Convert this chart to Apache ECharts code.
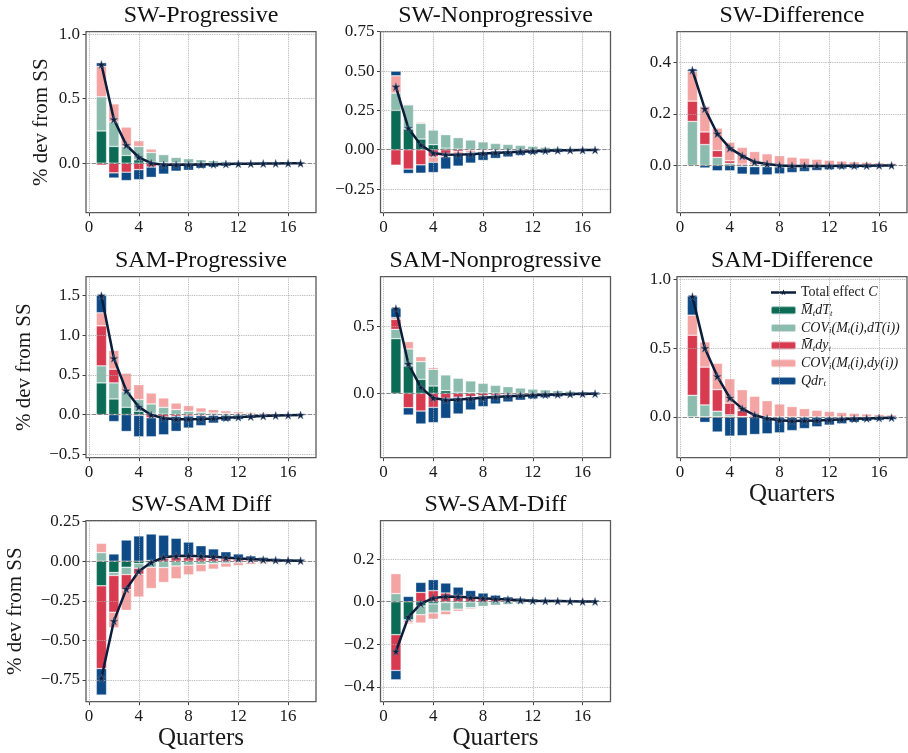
<!DOCTYPE html>
<html>
<head>
<meta charset="utf-8">
<script src="https://cdn.jsdelivr.net/npm/echarts@6/dist/echarts.min.js"></script>
<style>
  html, body { margin: 0; padding: 0; background: #fff; }
  #chart { width: 908px; height: 753px; }
</style>
</head>
<body>
<div id="chart"></div>
<script>
// quarters after the shock
const quarters = [1, 2, 3, 4, 5, 6, 7, 8, 9, 10, 11, 12, 13, 14, 15, 16, 17]
const xTicks = [0, 4, 8, 12, 16]

// SW-Progressive
const swProgMdT = [0.25, 0.13, 0.06, 0.026, 0.008, 0.003, 0.002, 0.001, 0.001, 0, 0, 0, 0, 0, 0, 0, 0]
const swProgCovdT = [0.265, 0.19, 0.07, 0.104, 0.075, 0.063, 0.043, 0.034, 0.026, 0.02, 0.015, 0.011, 0.008, 0.006, 0.004, 0.003, 0.002]
const swProgMdy = [-0.015, -0.075, -0.07, -0.05, -0.03, -0.015, -0.01, -0.008, -0.005, -0.004, -0.003, -0.002, -0.002, -0.001, -0.001, -0.001, 0]
const swProgCovdy = [0.235, 0.14, 0.15, 0.044, 0.027, 0.006, 0.005, 0.005, 0.003, 0.002, 0.001, 0.002, 0.001, 0.001, 0.001, 0, 0]
const swProgQdr = [0.03, -0.04, -0.065, -0.078, -0.08, -0.07, -0.052, -0.047, -0.035, -0.027, -0.02, -0.014, -0.01, -0.008, -0.005, -0.003, -0.002]
const swProgTotal = [0.765, 0.34, 0.14, 0.046, 0.0, -0.012, -0.013, -0.013, -0.011, -0.009, -0.007, -0.005, -0.004, -0.003, -0.002, -0.001, -0.001]
const swProgTicks = [0, 0.5, 1.0]

// SW-Nonprogressive
const swNonMdT = [0.25, 0.132, 0.068, 0.032, 0.01, 0.004, 0.002, 0.001, 0, 0, 0, 0, 0, 0, 0, 0, 0]
const swNonCovdT = [0.11, 0.153, 0.1, 0.093, 0.086, 0.073, 0.06, 0.049, 0.04, 0.034, 0.028, 0.022, 0.017, 0.013, 0.01, 0.008, 0.006]
const swNonMdy = [-0.098, -0.123, -0.096, -0.045, -0.023, -0.012, -0.006, -0.004, -0.002, -0.002, -0.001, -0.001, 0, 0, 0, 0, 0]
const swNonCovdy = [0.11, 0.005, 0.007, -0.035, -0.022, -0.018, -0.012, -0.008, -0.006, -0.004, -0.003, -0.002, -0.002, -0.001, -0.001, 0, 0]
const swNonQdr = [0.03, -0.028, -0.053, -0.065, -0.078, -0.074, -0.067, -0.056, -0.047, -0.04, -0.032, -0.025, -0.02, -0.016, -0.012, -0.01, -0.008]
const swNonTotal = [0.4, 0.137, 0.03, -0.021, -0.032, -0.031, -0.028, -0.024, -0.02, -0.016, -0.012, -0.009, -0.006, -0.004, -0.003, -0.002, -0.001]
const swNonTicks = [-0.25, 0, 0.25, 0.5, 0.75]

// SW-Difference
const swDiffMdT = [0, 0, 0, 0, 0, 0, 0, 0, 0, 0, 0, 0, 0, 0, 0, 0, 0]
const swDiffCovdT = [0.171, 0.081, 0.031, 0.008, -0.004, -0.005, -0.005, -0.006, -0.006, -0.006, -0.006, -0.005, -0.005, -0.004, -0.004, -0.003, -0.003]
const swDiffMdy = [0.079, 0.049, 0.027, 0.01, 0.005, 0.002, 0.001, 0, 0, 0, 0, 0, 0, 0, 0, 0, 0]
const swDiffCovdy = [0.115, 0.1, 0.087, 0.072, 0.065, 0.052, 0.044, 0.038, 0.032, 0.028, 0.024, 0.02, 0.017, 0.014, 0.012, 0.01, 0.008]
const swDiffQdr = [0.008, -0.01, -0.021, -0.021, -0.03, -0.032, -0.032, -0.027, -0.022, -0.018, -0.014, -0.012, -0.009, -0.008, -0.006, -0.005, -0.003]
const swDiffTotal = [0.37, 0.22, 0.123, 0.067, 0.037, 0.013, 0.005, 0.0, -0.002, -0.002, -0.002, -0.002, -0.001, -0.001, -0.001, 0, 0]
const swDiffTicks = [0, 0.2, 0.4]

// SAM-Progressive
const samProgMdT = [0.4, 0.197, 0.092, 0.042, 0.015, 0.005, 0.002, 0.001, 0, 0, 0, 0, 0, 0, 0, 0, 0]
const samProgCovdT = [0.215, 0.203, 0.198, 0.148, 0.119, 0.087, 0.061, 0.041, 0.03, 0.02, 0.015, 0.01, 0.007, 0.005, 0.003, 0.002, 0.001]
const samProgMdy = [0.505, 0.173, 0.012, -0.01, -0.04, -0.03, -0.022, -0.018, -0.014, -0.01, -0.008, -0.006, -0.004, -0.003, -0.002, -0.001, -0.001]
const samProgCovdy = [0.165, 0.237, 0.221, 0.187, 0.138, 0.118, 0.083, 0.071, 0.055, 0.043, 0.033, 0.025, 0.019, 0.014, 0.011, 0.008, 0.006]
const samProgQdr = [0.22, -0.088, -0.213, -0.27, -0.24, -0.225, -0.19, -0.152, -0.126, -0.098, -0.075, -0.056, -0.042, -0.031, -0.022, -0.016, -0.011]
const samProgTotal = [1.5, 0.71, 0.3, 0.097, -0.005, -0.045, -0.058, -0.058, -0.055, -0.048, -0.04, -0.032, -0.025, -0.018, -0.012, -0.008, -0.005]
const samProgTicks = [-0.5, 0, 0.5, 1.0, 1.5]

// SAM-Nonprogressive
const samNonMdT = [0.41, 0.205, 0.105, 0.055, 0.02, 0.008, 0.004, 0.002, 0.001, 0, 0, 0, 0, 0, 0, 0, 0]
const samNonCovdT = [0.07, 0.128, 0.133, 0.125, 0.118, 0.105, 0.089, 0.073, 0.059, 0.05, 0.04, 0.032, 0.026, 0.02, 0.016, 0.013, 0.01]
const samNonMdy = [0.075, -0.108, -0.133, -0.105, -0.038, -0.03, -0.025, -0.02, -0.015, -0.012, -0.01, -0.008, -0.006, -0.005, -0.004, -0.003, -0.002]
const samNonCovdy = [0.013, 0.055, 0.037, 0.013, 0, 0, 0, 0, 0, 0, 0, 0, 0, 0, 0, 0, 0]
const samNonQdr = [0.072, -0.055, -0.097, -0.115, -0.15, -0.125, -0.1, -0.08, -0.065, -0.053, -0.042, -0.034, -0.028, -0.022, -0.017, -0.014, -0.011]
const samNonTotal = [0.635, 0.22, 0.045, -0.035, -0.05, -0.046, -0.04, -0.034, -0.028, -0.022, -0.018, -0.014, -0.01, -0.008, -0.006, -0.004, -0.003]
const samNonTicks = [0, 0.5]

// SAM-Difference
const samDiffMdT = [0, 0, 0, 0, 0, 0, 0, 0, 0, 0, 0, 0, 0, 0, 0, 0, 0]
const samDiffCovdT = [0.157, 0.087, 0.041, 0.015, 0.003, -0.003, -0.004, -0.004, -0.004, -0.004, -0.003, -0.003, -0.003, -0.002, -0.002, -0.002, -0.001]
const samDiffMdy = [0.437, 0.275, 0.157, 0.085, 0.043, 0.01, 0.003, 0, 0, 0, 0, 0, 0, 0, 0, 0, 0]
const samDiffCovdy = [0.146, 0.184, 0.192, 0.178, 0.152, 0.14, 0.115, 0.094, 0.075, 0.06, 0.048, 0.04, 0.032, 0.026, 0.021, 0.017, 0.014]
const samDiffQdr = [0.14, -0.04, -0.11, -0.14, -0.137, -0.125, -0.119, -0.112, -0.096, -0.081, -0.069, -0.057, -0.047, -0.038, -0.03, -0.024, -0.019]
const samDiffTotal = [0.875, 0.5, 0.295, 0.138, 0.06, 0.012, -0.012, -0.025, -0.03, -0.028, -0.026, -0.022, -0.018, -0.014, -0.011, -0.008, -0.006]
const samDiffTicks = [0, 0.5, 1.0]

// SW-SAM Diff
const swsamMdT = [-0.155, -0.071, -0.038, -0.015, -0.005, -0.002, -0.001, 0, 0, 0, 0, 0, 0, 0, 0, 0, 0]
const swsamCovdT = [0.054, -0.019, -0.046, -0.029, -0.033, -0.038, -0.029, -0.025, -0.02, -0.016, -0.012, -0.009, -0.007, -0.005, -0.004, -0.003, -0.002]
const swsamMdy = [-0.523, -0.232, -0.096, -0.038, 0.005, 0.017, 0.025, 0.025, 0.022, 0.018, 0.015, 0.012, 0.009, 0.007, 0.005, 0.004, 0.003]
const swsamCovdy = [0.059, -0.098, -0.13, -0.144, -0.134, -0.094, -0.081, -0.061, -0.046, -0.034, -0.025, -0.019, -0.013, -0.01, -0.007, -0.005, -0.004]
const swsamQdr = [-0.167, 0.046, 0.134, 0.16, 0.167, 0.148, 0.12, 0.096, 0.076, 0.06, 0.045, 0.034, 0.025, 0.018, 0.013, 0.009, 0.007]
const swsamTotal = [-0.738, -0.378, -0.175, -0.063, -0.008, 0.025, 0.033, 0.035, 0.032, 0.028, 0.023, 0.018, 0.014, 0.01, 0.007, 0.005, 0.003]
const swsamTicks = [-0.75, -0.5, -0.25, 0, 0.25]

// SW-SAM-Diff
const swsam2MdT = [-0.155, -0.085, -0.02, -0.01, -0.004, -0.002, -0.001, 0, 0, 0, 0, 0, 0, 0, 0, 0, 0]
const swsam2CovdT = [0.038, -0.006, -0.041, -0.043, -0.04, -0.033, -0.027, -0.022, -0.017, -0.013, -0.01, -0.008, -0.006, -0.004, -0.003, -0.002, -0.002]
const swsam2Mdy = [-0.168, -0.006, 0.044, 0.052, 0.041, 0.03, 0.022, 0.016, 0.012, 0.008, 0.006, 0.004, 0.003, 0.002, 0.001, 0.001, 0]
const swsam2Covdy = [0.094, -0.007, -0.039, -0.029, -0.017, -0.01, -0.006, -0.003, -0.001, 0, 0, 0, 0, 0, 0, 0, 0]
const swsam2Qdr = [-0.044, 0.025, 0.047, 0.052, 0.047, 0.039, 0.031, 0.025, 0.019, 0.015, 0.011, 0.009, 0.007, 0.005, 0.004, 0.003, 0.003]
const swsam2Total = [-0.234, -0.072, -0.009, 0.017, 0.025, 0.024, 0.02, 0.016, 0.013, 0.01, 0.007, 0.005, 0.004, 0.003, 0.002, 0.001, 0.001]
const swsam2Ticks = [-0.4, -0.2, 0, 0.2]

const font = "'Liberation Serif', 'DejaVu Serif', serif"
const navy = '#0c1d3a'
const starPath = 'path://M50,2 L61.8,38.2 L99.5,38.2 L69,60.5 L80.9,96.7 L50,74.4 L19.1,96.7 L31,60.5 L0.5,38.2 L38.2,38.2 Z'
// legend icon: line with a small star in the middle (box 100 x 32)
const lineStarIcon = 'path://M0,0 L0.2,0 L0,0.2 Z M100,32 L99.8,32 L100,31.8 Z ' +
  'M0,11 L100,11 L100,21 L0,21 Z ' +
  'M50,3 L53.1,11.8 L62.4,12 L54.9,17.6 L57.6,26.5 L50,21.2 L42.4,26.5 L45.1,17.6 L37.6,12 L46.9,11.8 Z'

// bar components, stacked in this order (matplotlib style)
const barDefs = [
  { name: 'MdT', color: '#0b6b54' },
  { name: 'COVdT', color: '#8cbcae' },
  { name: 'Mdy', color: '#d83a50' },
  { name: 'COVdy', color: '#f4a4a3' },
  { name: 'Qdr', color: '#0e4a86' }
]

const panels = [
  { title: 'SW-Progressive', col: 0, row: 0, bars: [swProgMdT, swProgCovdT, swProgMdy, swProgCovdy, swProgQdr], total: swProgTotal, ticks: swProgTicks, yMin: -0.384, yMax: 1.02, digits: 1 },
  { title: 'SW-Nonprogressive', col: 1, row: 0, bars: [swNonMdT, swNonCovdT, swNonMdy, swNonCovdy, swNonQdr], total: swNonTotal, ticks: swNonTicks, yMin: -0.40, yMax: 0.75, digits: 2 },
  { title: 'SW-Difference', col: 2, row: 0, bars: [swDiffMdT, swDiffCovdT, swDiffMdy, swDiffCovdy, swDiffQdr], total: swDiffTotal, ticks: swDiffTicks, yMin: -0.184, yMax: 0.52, digits: 1 },
  { title: 'SAM-Progressive', col: 0, row: 1, bars: [samProgMdT, samProgCovdT, samProgMdy, samProgCovdy, samProgQdr], total: samProgTotal, ticks: samProgTicks, yMin: -0.544, yMax: 1.74, digits: 1 },
  { title: 'SAM-Nonprogressive', col: 1, row: 1, bars: [samNonMdT, samNonCovdT, samNonMdy, samNonCovdy, samNonQdr], total: samNonTotal, ticks: samNonTicks, yMin: -0.483, yMax: 0.875, digits: 1 },
  { title: 'SAM-Difference', col: 2, row: 1, bars: [samDiffMdT, samDiffCovdT, samDiffMdy, samDiffCovdy, samDiffQdr], total: samDiffTotal, ticks: samDiffTicks, yMin: -0.297, yMax: 1.02, digits: 1, quarters: true },
  { title: 'SW-SAM Diff', col: 0, row: 2, bars: [swsamMdT, swsamCovdT, swsamMdy, swsamCovdy, swsamQdr], total: swsamTotal, ticks: swsamTicks, yMin: -0.887, yMax: 0.256, digits: 2, quarters: true },
  { title: 'SW-SAM-Diff', col: 1, row: 2, bars: [swsam2MdT, swsam2CovdT, swsam2Mdy, swsam2Covdy, swsam2Qdr], total: swsam2Total, ticks: swsam2Ticks, yMin: -0.47, yMax: 0.381, digits: 1, quarters: true }
]

const gridLefts = [86, 380.5, 677]
const gridTops = [31.7, 276.7, 520.7]
const gridW = 230
const gridH = 181
const yNameGaps = [34, 51, 60]

function fmt (v, d) {
  const s = Math.abs(v).toFixed(d)
  return v < 0 ? '\u2212' + s : s
}

const gridLineStyle = { type: 'dotted', color: '#ababab', width: 0.9 }

const grids = []
const xAxes = []
const yAxes = []
const series = []
const texts = []

panels.forEach((p, i) => {
  const left = gridLefts[p.col]
  const top = gridTops[p.row]
  grids.push({
    left: left, top: top, width: gridW, height: gridH,
    show: true, borderColor: '#5a5a5a', borderWidth: 1.3, backgroundColor: 'transparent',
    containLabel: false, outerBoundsMode: 'none'
  })
  xAxes.push({
    gridIndex: i, type: 'value', min: -0.24, max: 18.24,
    name: p.quarters ? 'Quarters' : '', nameLocation: 'middle', nameGap: 22,
    nameTextStyle: { fontFamily: font, fontSize: 25, color: '#1a1a1a', verticalAlign: 'top' },
    axisLine: { show: false, onZero: false },
    axisTick: { customValues: xTicks, length: 3.5, lineStyle: { color: '#444', width: 1 } },
    axisLabel: { customValues: xTicks, margin: 6, fontFamily: font, fontSize: 17, color: '#1a1a1a' },
    splitLine: { show: false }
  })
  yAxes.push({
    gridIndex: i, type: 'value', min: p.yMin, max: p.yMax,
    name: p.col === 0 ? '% dev from SS' : '', nameLocation: 'middle', nameGap: yNameGaps[p.row],
    nameTextStyle: { fontFamily: font, fontSize: 21, color: '#1a1a1a' },
    axisLine: { show: false, onZero: false },
    axisTick: { customValues: p.ticks, length: 3.5, lineStyle: { color: '#444', width: 1 } },
    axisLabel: { customValues: p.ticks, margin: 6, fontFamily: font, fontSize: 17, color: '#1a1a1a', formatter: v => fmt(v, p.digits) },
    splitLine: { show: false }
  })
  texts.push({
    type: 'text', x: left + gridW / 2, y: top - 27.5,
    style: { text: p.title, font: '24px ' + font, fill: '#111', textAlign: 'center', textVerticalAlign: 'top' }
  })
  // stacked components; data is [value, quarter] so the stack runs on y
  barDefs.forEach((d, k) => {
    series.push({
      type: 'bar', name: d.name, xAxisIndex: i, yAxisIndex: i, stack: 'p' + i,
      barWidth: 10.3,
      encode: { x: 1, y: 0 },
      data: quarters.map((q, j) => [p.bars[k][j], q]),
      itemStyle: { color: d.color, borderColor: 'rgba(255,255,255,0.55)', borderWidth: 0.6 },
      emphasis: { disabled: true }
    })
  })
  // dotted grid at the tick values, dashed line at zero
  const gridMarks = xTicks.map(v => ({ xAxis: v }))
    .concat(p.ticks.map(v => ({ yAxis: v })))
    .concat([{ yAxis: 0, lineStyle: { type: 'dashed', color: '#8a8a8a', width: 1 } }])
  series.push({
    type: 'line', name: 'Total effect C', xAxisIndex: i, yAxisIndex: i, z: 6,
    data: quarters.map((q, j) => [q, p.total[j]]),
    symbol: starPath, symbolSize: 8, showAllSymbol: true,
    lineStyle: { color: navy, width: 2.5 },
    itemStyle: { color: navy, borderColor: '#5f7a9c', borderWidth: 0.5 },
    emphasis: { disabled: true },
    markLine: {
      silent: true, symbol: ['none', 'none'], label: { show: false }, z: 4,
      lineStyle: gridLineStyle,
      emphasis: { disabled: true },
      data: gridMarks
    }
  })
})

const legendLabels = {
  'Total effect C': 'Total effect {it|C}',
  MdT: '{it|M\u0304}{sub|t}{it|dT}{sub|t}',
  COVdT: '{it|COV}{sub|i}{it|(M}{sub|t}{it|(i),dT(i))}',
  Mdy: '{it|M\u0304}{sub|t}{it|dy}{sub|t}',
  COVdy: '{it|COV}{sub|i}{it|(M}{sub|t}{it|(i),dy(i))}',
  Qdr: '{it|Qdr}{sub|t}'
}

const chart = echarts.init(document.getElementById('chart'))
chart.setOption({
  animation: false,
  textStyle: { fontFamily: font },
  grid: grids,
  xAxis: xAxes,
  yAxis: yAxes,
  graphic: texts,
  legend: {
    orient: 'vertical', left: 765, top: 280,
    itemWidth: 25, itemHeight: 8, itemGap: 2.7,
    selectedMode: false,
    data: [
      { name: 'Total effect C', icon: lineStarIcon, itemStyle: { color: navy, borderWidth: 0 } },
      'MdT', 'COVdT', 'Mdy', 'COVdy', 'Qdr'
    ],
    formatter: name => legendLabels[name],
    textStyle: {
      fontFamily: font, fontSize: 14, color: '#1a1a1a', lineHeight: 15,
      rich: {
        it: { fontFamily: font, fontStyle: 'italic', fontSize: 14, lineHeight: 15 },
        sub: { fontFamily: font, fontStyle: 'italic', fontSize: 9, lineHeight: 9, verticalAlign: 'bottom' }
      }
    }
  },
  series: series
})
</script>
</body>
</html>
